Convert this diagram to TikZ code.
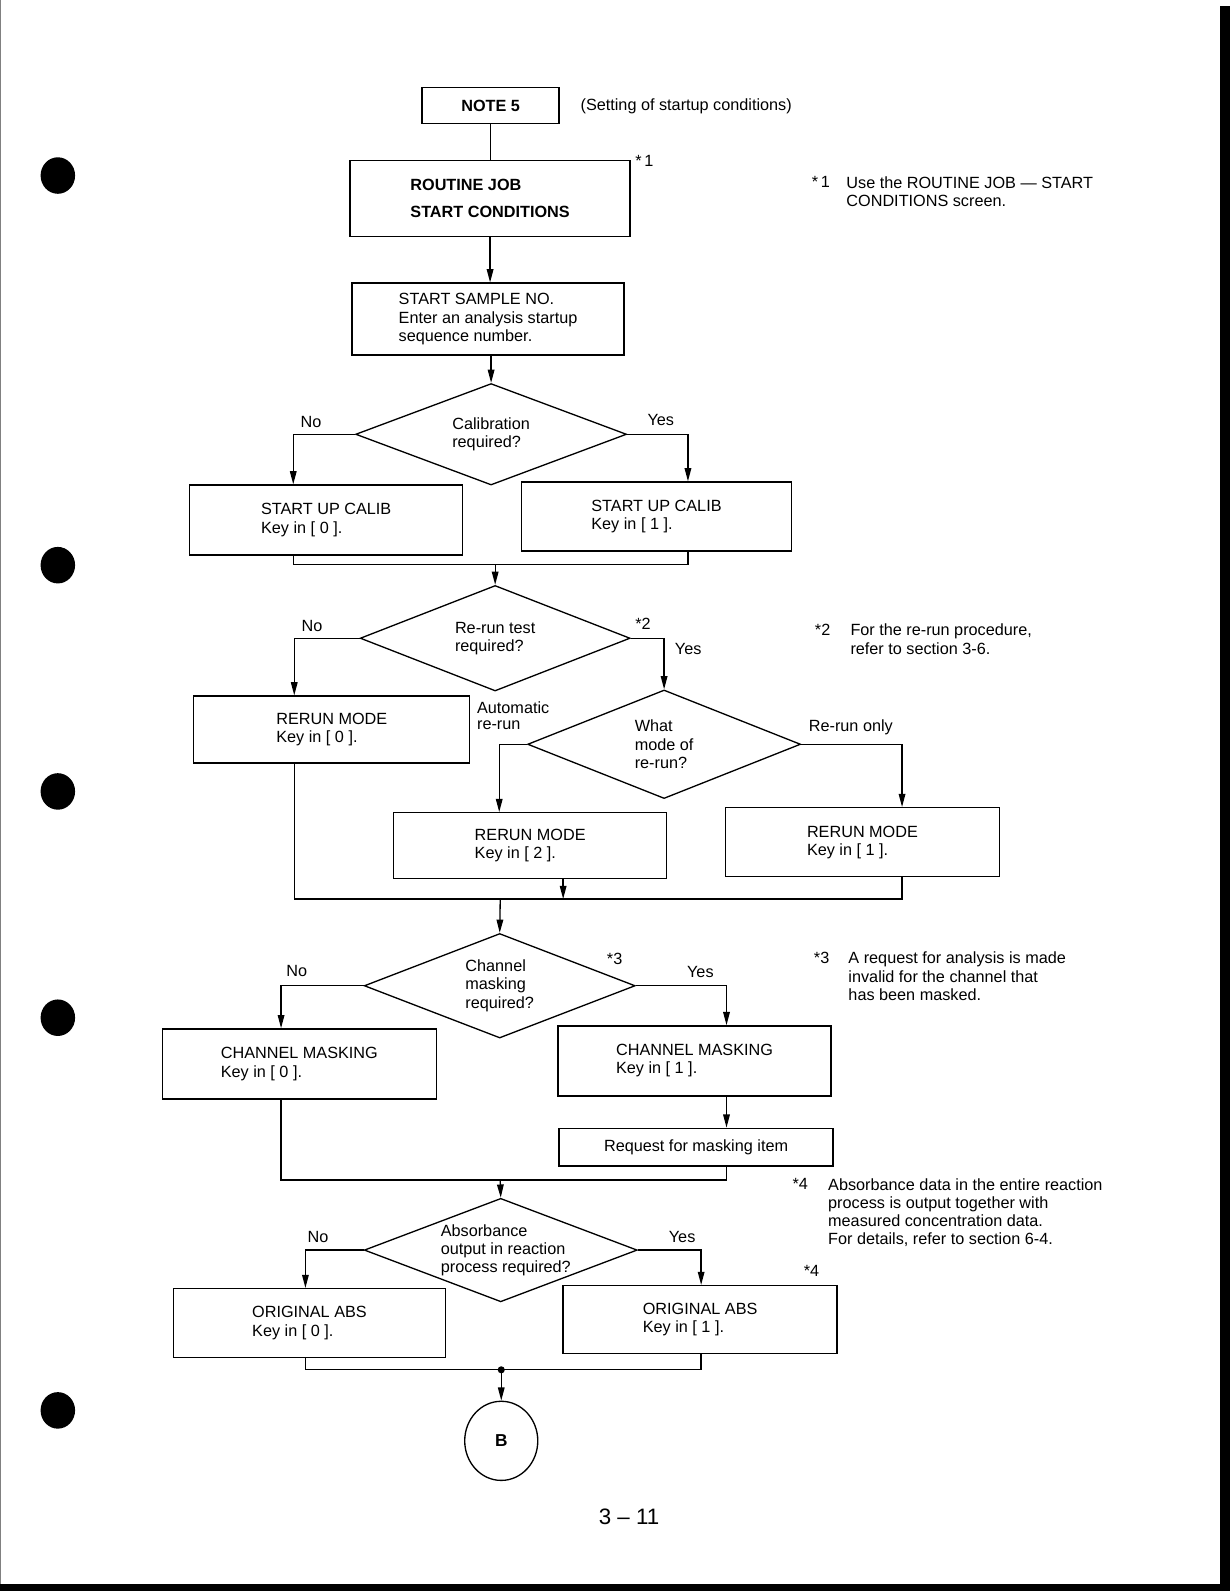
\documentclass[tikz,border=0pt]{standalone}
\usepackage{fontspec}
\setmainfont{Liberation Sans}
\usetikzlibrary{shapes.geometric,arrows.meta}

\tikzset{
  box/.style={draw, line width=1.3pt, align=left, inner sep=0pt},
  ask/.style={draw, diamond, line width=1.3pt, inner sep=0pt},
  txt/.style={align=left, inner sep=0pt, anchor=north west},
  lbl/.style={inner sep=0pt, anchor=west},
  flow/.style={line width=1.3pt, -{Triangle[length=13pt,width=6.5pt]}},
  link/.style={line width=1.3pt},
}

\begin{document}
\begin{tikzpicture}[x=1pt, y=-1pt, font=\fontsize{16}{18}\selectfont]
\useasboundingbox (0,0) rectangle (1212,1568);
% page edges and punch holes
\fill (1202,6) rectangle (1212,1568);
\fill (0,1561) rectangle (1212,1568);
\draw [gray, line width=1pt] (0.5,0) -- (0.5,1561);
\foreach \y in {173,557,780,1003,1390}
\fill (57,\y) ellipse [x radius=17pt, y radius=18pt];

% start
\node (note) at (483.5,104) [box, minimum width=135pt, minimum height=36pt, font=\bfseries\fontsize{16}{18}\selectfont] {NOTE 5};
\node (setup) at (572,105) [lbl] {(Setting of startup conditions)};
\node (routine) at (483,195.5) [box, minimum width=276pt, minimum height=75pt, font=\bfseries\fontsize{16}{26}\selectfont] {ROUTINE JOB\\START CONDITIONS};
\node (star1) at (626,159) [lbl] {*\,1};
\node (sample) at (481,314.5) [box, minimum width=268pt, minimum height=71pt] {START SAMPLE NO.\\Enter an analysis startup\\sequence number.};
\draw [link] (note.south) -- (note.south |- routine.north);
\draw [flow] (routine.south) -- (routine.south |- sample.north);

% calibration
\node (cal) at (484,428) [ask, minimum width=267pt, minimum height=100pt] {};
\node (caltext) at (cal.center) [align=left, inner sep=0pt] {Calibration\\required?};
\node (calnolbl) at (296,416) [lbl] {No};
\node (calyeslbl) at (638,414) [lbl] {Yes};
\node (calno) at (321.5,512.5) [box, minimum width=269pt, minimum height=69pt] {START UP CALIB\\Key in [ 0 ].};
\node (calyes) at (647,509) [box, minimum width=266pt, minimum height=68pt] {START UP CALIB\\Key in [ 1 ].};
\draw [flow] (sample.south -| cal.north) -- (cal.north);
\draw [flow] (cal.west) -| ([xshift=-32.5pt]calno.north);
\draw [flow] (cal.east) -| ([xshift=31pt]calyes.north);
\coordinate (join1) at (488,556);
\draw [link] ([xshift=-32.5pt]calno.south) |- (join1) -| ([xshift=31pt]calyes.south);

% re-run
\node (rer) at (488,629) [ask, minimum width=266pt, minimum height=104pt] {};
\node (rertext) at (rer.center) [align=left, inner sep=0pt] {Re-run test\\required?};
\node (rernolbl) at (297,617) [lbl] {No};
\node (star2) at (626,615) [lbl] {*2};
\node (reryeslbl) at (665,640) [lbl] {Yes};
\draw [flow] (join1) -- (rer.north);
\node (rerno) at (327,719) [box, minimum width=272pt, minimum height=66pt] {RERUN MODE\\Key in [ 0 ].};
\draw [flow] (rer.west) -| ([xshift=-37pt]rerno.north);
\node (mode) at (654.5,733.5) [ask, minimum width=269pt, minimum height=107pt] {};
\node (modetext) at (mode.center) [align=left, inner sep=0pt] {What\\mode of\\re-run?};
\draw [flow] (rer.east) -| (mode.north);
\node (autolbl) at (470,691) [txt, font=\fontsize{16}{16}\selectfont] {Automatic\\re-run};
\node (onlylbl) at (797,717) [lbl] {Re-run only};
\node (rer2) at (522.5,833.5) [box, minimum width=269pt, minimum height=65pt] {RERUN MODE\\Key in [ 2 ].};
\node (rer1) at (850,830) [box, minimum width=270pt, minimum height=68pt] {RERUN MODE\\Key in [ 1 ].};
\draw [flow] (mode.west) -| ([xshift=-30.5pt]rer2.north);
\draw [flow] (mode.east) -| ([xshift=39pt]rer1.north);
\coordinate (join2) at (493,886);
\coordinate (rer2out) at ([xshift=32.5pt]rer2.south);
\draw [link] ([xshift=-37pt]rerno.south) |- (join2) -| ([xshift=39pt]rer1.south);
\draw [flow] (rer2out) -- (rer2out |- join2);

% channel masking
\node (chan) at (492.5,971.5) [ask, minimum width=267pt, minimum height=103pt] {};
\node (chantext) at (chan.center) [align=left, inner sep=0pt] {Channel\\masking\\required?};
\node (channolbl) at (282,957) [lbl] {No};
\node (star3) at (598,945) [lbl] {*3};
\node (chanyeslbl) at (677,958) [lbl] {Yes};
\draw [flow] (join2) -- (chan.north);
\node (channo) at (295,1048.5) [box, minimum width=270pt, minimum height=69pt] {CHANNEL MASKING\\Key in [ 0 ].};
\node (chanyes) at (684.5,1045.5) [box, minimum width=269pt, minimum height=69pt] {CHANNEL MASKING\\Key in [ 1 ].};
\draw [flow] (chan.west) -| ([xshift=-18pt]channo.north);
\draw [flow] (chan.east) -| ([xshift=31.5pt]chanyes.north);
\node (req) at (686,1130.5) [box, minimum width=270pt, minimum height=37pt] {Request for masking item};
\draw [flow] ([xshift=31.5pt]chanyes.south) -- ([xshift=30pt]req.north);
\coordinate (join3) at (493,1163);
\draw [link] ([xshift=-18pt]channo.south) |- (join3) -| ([xshift=30pt]req.south);

% absorbance
\node (abs) at (493.5,1232) [ask, minimum width=269pt, minimum height=102pt] {};
\node (abstext) at ([xshift=5pt]abs.center) [align=left, inner sep=0pt] {Absorbance\\output in reaction\\process required?};
\node (absnolbl) at (303,1219) [lbl] {No};
\node (absyeslbl) at (659,1219) [lbl] {Yes};
\node (star4) at (792,1253) [lbl] {*4};
\draw [flow] (join3) -- (abs.north);
\node (absno) at (305,1304) [box, minimum width=268pt, minimum height=68pt] {ORIGINAL ABS\\Key in [ 0 ].};
\node (absyes) at (690,1300.5) [box, minimum width=270pt, minimum height=67pt] {ORIGINAL ABS\\Key in [ 1 ].};
\draw [flow] (abs.west) -| ([xshift=-4pt]absno.north);
\draw [flow] (abs.east) -| ([xshift=1pt]absyes.north);
\coordinate (join4) at (494,1350);
\draw [link] ([xshift=-4pt]absno.south) |- (join4) -| ([xshift=1pt]absyes.south);
\fill (join4) circle [radius=3.5pt];
\node (endB) at (494,1420) [draw, ellipse, line width=1.3pt, minimum width=72pt, minimum height=78pt, font=\bfseries\fontsize{17}{19}\selectfont] {B};
\draw [flow] (join4) -- (endB.north);

% notes
\node (n1star) at (800,174) [txt] {*\,1};
\node (n1) at (834,174) [txt] {Use the ROUTINE JOB --- START\\CONDITIONS screen.};
\node (n2star) at (803,615) [txt] {*2};
\node (n2) at (838,615) [txt] {For the re-run procedure,\\refer to section 3-6.};
\node (n3star) at (802,938) [txt] {*3};
\node (n3) at (836,938) [txt] {A request for analysis is made\\invalid for the channel that\\has been masked.};
\node (n4star) at (781,1161) [txt] {*4};
\node (n4) at (816,1161) [txt] {Absorbance data in the entire reaction\\process is output together with\\measured concentration data.\\For details, refer to section 6-4.};

\node (page) at (620,1495) [font=\fontsize{22}{26}\selectfont] {3 -- 11};
\end{tikzpicture}
\end{document}
